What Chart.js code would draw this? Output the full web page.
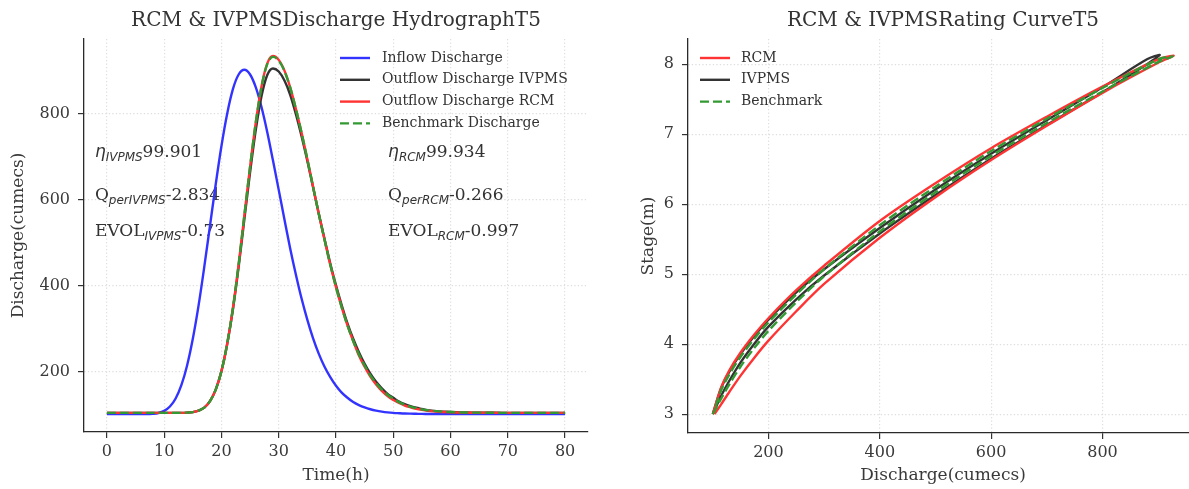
<!DOCTYPE html>
<html><head><meta charset="utf-8">
<script src="https://cdn.jsdelivr.net/npm/chart.js@4.4.1/dist/chart.umd.min.js"></script>
<style>
html,body{margin:0;padding:0;background:#fff;overflow:hidden;width:1189px;height:489px;position:relative;}
#c1{position:absolute;left:0;top:0;}
#c2{position:absolute;left:620px;top:0;}
</style></head><body>
<canvas id="c1" width="600" height="489"></canvas>
<canvas id="c2" width="578" height="489"></canvas>
<script>
// ---------- Hydrograph data ----------
const timeH = [0,1,2,3,4,5,6,7,8,9,10,11,12,13,14,15,16,17,18,19,20,21,22,23,24,25,26,27,28,29,30,31,32,33,34,35,36,37,38,39,40,41,42,43,44,45,46,47,48,49,50,51,52,53,54,55,56,57,58,59,60,61,62,63,64,65,66,67,68,69,70,71,72,73,74,75,76,77,78,79,80];
const inflowQ = [102,102,102,102,102,102,102,102,
102.8,104.7,109.5,119.6,138.4,169.2,215,277,354,444,
540,636,725,800,857,891,902,891,861,815,
757,691,623,554,487,426,370,321,278,242,
212,188,168,152,140,130,123,117.5,113.3,110.2,
107.9,106.2,105,104.2,103.5,103.1,102.8,102.5,102.4,102.3,
102.2,102.1,
102,102,102,102,102,102,102,102,102,102,102,102,102,102,102,102,102,102,102,102,102];
const outflowIVPMS = [105,105,105,105,105,105,105,105,105,105,105,105,105,105,
105.5,106.7,110,117,132,159,202,265,345,444,
555,664,763,841,890,905,898,877,844,799,
747,690,629,567,509,452,401,355,313,277,
246,219,196,177,162,149,140,131,125,120.5,
117,114,111,109.5,108.3,107.5,106.8,106.3,106,105.7,
105.5,105.4,105.3,105.2,105.1,
105,105,105,105,105,105,105,105,105,105,105,105];
const outflowRCM = [105,105,105,105,105,105,105,105,105,105,105,105,105,105,
105.5,106.7,110,117,132,159,202,265,348,450,
564,677,780,864,917,934,925,900,861,811,
755,694,630,567,507,449,397,350,308,272,
238,212,189,171,156,144,135,128,122,118,
114.5,112,110,108.5,107.5,106.8,106.3,105.9,105.6,105.4,
105.3,105.2,105.1,105.1,105,
105,105,105,105,105,105,105,105,105,105,105,105];
const benchmarkQ = [105,105,105,105,105,105,105,105,105,105,105,105,105,105,
105.5,106.7,110,117,132,159,202,265,348,450,
564,677,780,863,915,932,923,899,861,811,
755,694,630,567,507,449,397,350,308,272,
241,215,192,174,159,147,138,130,124,119.5,
116,113,111,109.5,108.3,107.5,106.8,106.3,106,105.7,
105.5,105.4,105.3,105.2,105.1,
105,105,105,105,105,105,105,105,105,105,105,105];
const timeTicks = [0,10,20,30,40,50,60,70,80];
const dischargeTicks = [200,400,600,800];

// ---------- Statistics text ----------
const statLabels = ['η','Q','EVOL'];
const statMathBase = [true,false,false];
const statSubIVPMS = ['IVPMS','perIVPMS','IVPMS'];
const statValIVPMS = ['99.901','-2.834','-0.73'];
const statSubRCM = ['RCM','perRCM','RCM'];
const statValRCM = ['99.934','-0.266','-0.997'];
const statX = [-2.1, 49.1];
const statY = [700, 600, 515];

// ---------- Rating curve data (loops: rising then falling) ----------
const ratingQ_RCM = [103,115,130,150,175,200,250,300,400,500,600,700,800,900,928,900,800,700,600,500,400,300,250,200,175,150,130,115,100];
const ratingS_RCM = [3.00,3.14,3.32,3.55,3.81,4.05,4.47,4.86,5.52,6.10,6.63,7.12,7.59,8.02,8.12,8.07,7.68,7.25,6.80,6.30,5.76,5.12,4.77,4.37,4.14,3.88,3.63,3.38,3.00];
const ratingQ_IVPMS = [100,115,130,150,175,200,250,300,400,500,600,700,800,880,903,880,800,700,600,500,400,300,250,200,175,150,130,115,100];
const ratingS_IVPMS = [3.00,3.26,3.48,3.74,4.01,4.25,4.64,4.98,5.58,6.13,6.65,7.13,7.60,8.00,8.13,8.07,7.67,7.20,6.72,6.21,5.66,5.07,4.74,4.35,4.12,3.86,3.61,3.37,3.00];
const ratingQ_Bench = [100,115,130,150,175,200,250,300,400,500,600,700,800,900,926,900,800,700,600,500,400,300,250,200,175,150,130,115,102];
const ratingS_Bench = [3.00,3.22,3.43,3.68,3.95,4.19,4.60,4.97,5.61,6.17,6.69,7.16,7.61,8.03,8.11,8.07,7.66,7.22,6.76,6.25,5.70,5.07,4.71,4.31,4.08,3.82,3.57,3.34,3.02];
const ratingQTicks = [200,400,600,800];
const stageTicks = [3,4,5,6,7,8];

// ---------- helpers ----------
const FONT = 'DejaVu Serif';
const TXT = '#333333';
const pairs = (xs, ys) => xs.map((v, i) => ({x: v, y: ys[i]}));

const legendPlugin = {
  id: 'customLegend',
  afterDraw(chart, args, o) {
    const {ctx, chartArea} = chart;
    ctx.save();
    ctx.font = o.font;
    chart.data.datasets.forEach((ds, i) => {
      const y = chartArea.top + o.top + i * o.rowGap;
      const x0 = chartArea.left + o.left;
      ctx.strokeStyle = ds.borderColor;
      ctx.lineWidth = ds.borderWidth;
      ctx.setLineDash(ds.borderDash || []);
      ctx.beginPath(); ctx.moveTo(x0, y); ctx.lineTo(x0 + o.handle, y); ctx.stroke();
      ctx.setLineDash([]);
      ctx.fillStyle = o.color; ctx.textBaseline = 'middle'; ctx.textAlign = 'left';
      ctx.fillText(ds.label, x0 + o.handle + o.gap, y);
    });
    ctx.restore();
  }
};

const statsPlugin = {
  id: 'stats',
  beforeDatasetsDraw(chart, args, o) {
    if (!o.enabled) return;
    const {ctx, scales: {x, y}} = chart;
    ctx.save();
    ctx.fillStyle = o.color; ctx.textBaseline = 'alphabetic'; ctx.textAlign = 'left';
    const drawCol = (xv, subs, vals) => {
      statLabels.forEach((lab, i) => {
        let px = x.getPixelForValue(xv); const py = y.getPixelForValue(statY[i]);
        ctx.font = statMathBase[i] ? o.mathFont : o.mainFont;
        ctx.fillText(lab, px, py); px += ctx.measureText(lab).width;
        ctx.font = o.subFont;
        ctx.fillText(subs[i], px, py + o.subDrop); px += ctx.measureText(subs[i]).width;
        ctx.font = o.mainFont;
        ctx.fillText(vals[i], px, py);
      });
    };
    drawCol(statX[0], statSubIVPMS, statValIVPMS);
    drawCol(statX[1], statSubRCM, statValRCM);
    ctx.restore();
  }
};

function axis(min, max, ticks, titleText, isX, size, titlePad) {
  return {
    type: 'linear', min, max,
    afterBuildTicks: ax => { ax.ticks = ticks.map(v => ({value: v})); },
    afterFit: s => { if (isX) s.height = size; else s.width = size; },
    grid: {color: '#dedede', lineWidth: 1.2, drawTicks: true, tickLength: 6, tickColor: '#333', tickWidth: 1.2, tickBorderDash: []},
    border: {display: true, color: '#2a2a2a', width: 1.3, dash: [1.3, 2.2]},
    ticks: {color: '#3a3a3a', font: {family: FONT, size: 16}, padding: isX ? 4 : 8, maxRotation: 0, autoSkip: false},
    title: {display: true, text: titleText, color: '#3a3a3a', font: {family: FONT, size: 17}, padding: titlePad}
  };
}

const common = {
  responsive: false, animation: false, devicePixelRatio: 1,
  elements: {point: {radius: 0}, line: {borderWidth: 2.4}},
};

// ---------- Left chart ----------
new Chart(document.getElementById('c1'), {
  type: 'line',
  data: {datasets: [
    {label: 'Inflow Discharge', data: pairs(timeH, inflowQ), borderColor: '#3333ff', borderWidth: 2.4, order: 4, cubicInterpolationMode: 'monotone'},
    {label: 'Outflow Discharge IVPMS', data: pairs(timeH, outflowIVPMS), borderColor: '#333333', borderWidth: 2.4, order: 3, cubicInterpolationMode: 'monotone'},
    {label: 'Outflow Discharge RCM', data: pairs(timeH, outflowRCM), borderColor: '#ff3333', borderWidth: 2.4, order: 2, cubicInterpolationMode: 'monotone'},
    {label: 'Benchmark Discharge', data: pairs(timeH, benchmarkQ), borderColor: '#339933', borderWidth: 2.4, borderDash: [9, 4], order: 1, cubicInterpolationMode: 'monotone'}
  ]},
  options: {
    ...common,
    layout: {padding: {left: 0, right: 12, top: 0, bottom: 0}},
    scales: {
      x: axis(-4, 84, timeTicks, 'Time(h)', true, 57, {top: 0, bottom: 3}),
      y: axis(60.5, 973.5, dischargeTicks, 'Discharge(cumecs)', false, 84, {top: 8, bottom: 0})
    },
    plugins: {
      legend: {display: false}, tooltip: {enabled: false},
      title: {display: true, fullSize: false, text: 'RCM & IVPMSDischarge HydrographT5', color: TXT, font: {family: FONT, size: 20, weight: 'normal'}, padding: {top: 9, bottom: 6}},
      customLegend: {left: 256, top: 19, rowGap: 21.8, handle: 30, gap: 12, font: '14px "DejaVu Serif"', color: TXT},
      stats: {enabled: true, color: TXT, mainFont: '17px "DejaVu Serif"', mathFont: 'italic 17px "DejaVu Sans"', subFont: 'italic 12px "DejaVu Sans"', subDrop: 4}
    }
  },
  plugins: [legendPlugin, statsPlugin]
});

// ---------- Right chart ----------
new Chart(document.getElementById('c2'), {
  type: 'line',
  data: {datasets: [
    {label: 'RCM', data: pairs(ratingQ_RCM, ratingS_RCM), borderColor: '#ff3333', borderWidth: 2.4, order: 2, tension: 0.3},
    {label: 'IVPMS', data: pairs(ratingQ_IVPMS, ratingS_IVPMS), borderColor: '#333333', borderWidth: 2.4, order: 3, tension: 0.3},
    {label: 'Benchmark', data: pairs(ratingQ_Bench, ratingS_Bench), borderColor: '#339933', borderWidth: 2.4, borderDash: [9, 4], order: 1, tension: 0.3}
  ]},
  options: {
    ...common,
    layout: {padding: {left: 0, right: 0, top: 0, bottom: 0}},
    scales: {
      x: axis(55.5, 971.6, ratingQTicks, 'Discharge(cumecs)', true, 56, {top: 0, bottom: 3}),
      y: axis(2.73, 8.36, stageTicks, 'Stage(m)', false, 68, {top: 18, bottom: 0})
    },
    plugins: {
      legend: {display: false}, tooltip: {enabled: false},
      title: {display: true, fullSize: false, text: 'RCM & IVPMSRating CurveT5', color: TXT, font: {family: FONT, size: 20, weight: 'normal'}, padding: {top: 9, bottom: 6}},
      customLegend: {left: 12, top: 19, rowGap: 21.8, handle: 30, gap: 11, font: '14px "DejaVu Serif"', color: TXT},
      stats: {enabled: false}
    }
  },
  plugins: [legendPlugin, statsPlugin]
});
</script>
</body></html>
